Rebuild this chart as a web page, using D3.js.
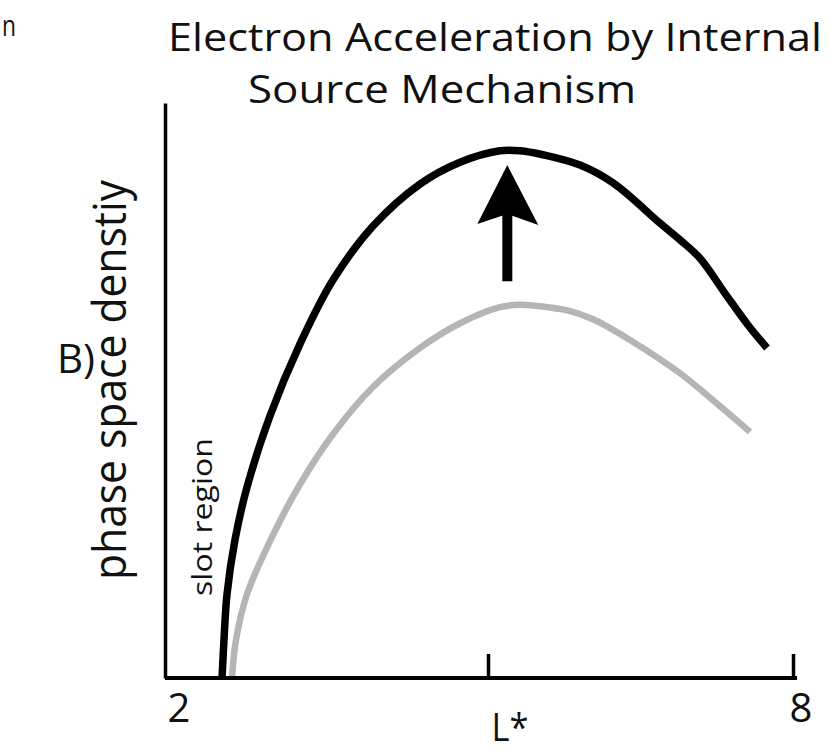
<!DOCTYPE html>
<html>
<head>
<meta charset="utf-8">
<script src="https://cdn.jsdelivr.net/npm/d3@7"></script>
<style>
  html, body { margin: 0; padding: 0; background: #fff; }
  svg { display: block; }
  text { font-family: "Open Sans", "Noto Sans", sans-serif; fill: #111; }
</style>
</head>
<body>
<svg id="chart" width="830" height="752"></svg>
<script>
// L* positions and phase space density (arbitrary units, 0-100)
const blackL = [2.384, 2.403, 2.433, 2.511, 2.630, 2.856, 3.151, 3.475, 3.869, 4.331, 4.725, 5.118, 5.315, 5.541, 5.905, 6.230, 6.692, 6.889, 7.085, 7.331, 7.557, 7.744];
const blackF = [0, 6.6, 14.6, 24.0, 33.2, 45.6, 58.1, 69.2, 78.6, 85.9, 89.7, 91.7, 91.7, 91.0, 89.2, 86.1, 79.1, 76.2, 73.0, 66.9, 61.4, 57.4];

const grayL = [2.482, 2.521, 2.630, 2.856, 3.151, 3.475, 3.869, 4.331, 4.725, 5.118, 5.315, 5.541, 5.790, 6.033, 6.397, 6.889, 7.213, 7.577];
const grayF = [0, 6.6, 14.6, 23.8, 33.7, 42.4, 50.6, 57.4, 61.7, 64.5, 64.9, 64.6, 63.9, 62.4, 58.8, 53.0, 48.3, 42.8];

// Arrow showing the rise from the grey profile to the black one
const arrowL = 5.19;
const arrowFrom = 69.0;
const arrowTo = 89.2;

// Axis ticks and labels
const tickValues = [5, 8];
const tickLabels = [{ v: 2, text: "2", dx: -4 }, { v: 8, text: "8", dx: 8 }];

const svg = d3.select("#chart");

// Frame of the plot
const frame = { left: 165, right: 797, top: 103, bottom: 678 };

const x = d3.scaleLinear().domain([2, 8]).range([183, 793]);
const y = d3.scaleLinear().domain([0, 100]).range([frame.bottom, frame.top]);

// Title
svg.append("text").attr("x", 168).attr("y", 51)
  .attr("font-size", 39).attr("textLength", 654).attr("lengthAdjust", "spacingAndGlyphs")
  .text("Electron Acceleration by Internal");
svg.append("text").attr("x", 248).attr("y", 103)
  .attr("font-size", 39).attr("textLength", 388).attr("lengthAdjust", "spacingAndGlyphs")
  .text("Source Mechanism");

// Fragment of the neighbouring panel's label
svg.append("text").attr("x", 2).attr("y", 36)
  .attr("font-size", 30).attr("textLength", 14).attr("lengthAdjust", "spacingAndGlyphs")
  .text("n");

// Panel letter
svg.append("text").attr("x", 57).attr("y", 373)
  .attr("font-size", 40).attr("textLength", 38).attr("lengthAdjust", "spacingAndGlyphs")
  .text("B)");

// Y axis title
svg.append("text")
  .attr("transform", "translate(126,380) rotate(-90)")
  .attr("text-anchor", "middle")
  .attr("font-size", 45).attr("textLength", 400).attr("lengthAdjust", "spacingAndGlyphs")
  .text("phase space denstiy");

// Slot region note
svg.append("text")
  .attr("transform", "translate(212,517) rotate(-90)")
  .attr("text-anchor", "middle")
  .attr("font-size", 28).attr("textLength", 158).attr("lengthAdjust", "spacingAndGlyphs")
  .text("slot region");

// Curves
const line = d3.line()
  .x(d => x(d[0]))
  .y(d => y(d[1]))
  .curve(d3.curveCatmullRom.alpha(0.5));

svg.append("path")
  .datum(d3.zip(grayL, grayF))
  .attr("d", line)
  .attr("fill", "none")
  .attr("stroke", "#b5b5b5")
  .attr("stroke-width", 6.5)
  .attr("stroke-linecap", "butt");

svg.append("path")
  .datum(d3.zip(blackL, blackF))
  .attr("d", line)
  .attr("fill", "none")
  .attr("stroke", "#000")
  .attr("stroke-width", 7.5)
  .attr("stroke-linecap", "butt");

// Arrow
const ax = x(arrowL);
const yTip = y(arrowTo);
const yBase = y(arrowFrom);
svg.append("rect")
  .attr("x", ax - 5).attr("width", 10)
  .attr("y", yTip + 45).attr("height", yBase - yTip - 45)
  .attr("fill", "#000");
svg.append("path")
  .attr("d", `M${ax},${yTip} L${ax + 31},${yTip + 60} L${ax},${yTip + 49} L${ax - 30},${yTip + 59} Z`)
  .attr("fill", "#000");

// Axes
const xAxis = d3.axisBottom(x)
  .tickValues(tickValues)
  .tickSize(-24)
  .tickSizeOuter(0)
  .tickFormat("");
const gx = svg.append("g").attr("transform", `translate(0,${frame.bottom})`).call(xAxis);
gx.select(".domain").remove();
gx.selectAll(".tick line").attr("stroke", "#000").attr("stroke-width", 3.5);

svg.append("line")
  .attr("x1", frame.left).attr("x2", frame.right)
  .attr("y1", frame.bottom).attr("y2", frame.bottom)
  .attr("stroke", "#000").attr("stroke-width", 4);

const yAxis = d3.axisLeft(y).tickValues([]).tickSizeOuter(0);
const gy = svg.append("g").attr("transform", `translate(${frame.left},0)`).call(yAxis);
gy.select(".domain").attr("stroke", "#000").attr("stroke-width", 3.5);

// Tick labels and x axis title
svg.selectAll(".xlab").data(tickLabels).enter().append("text")
  .attr("class", "xlab")
  .attr("x", d => x(d.v) + d.dx).attr("y", 722)
  .attr("text-anchor", "middle").attr("font-size", 40)
  .text(d => d.text);

svg.append("text").attr("x", 510).attr("y", 741)
  .attr("text-anchor", "middle").attr("font-size", 38)
  .attr("textLength", 37).attr("lengthAdjust", "spacingAndGlyphs")
  .text("L*");
</script>
</body>
</html>
